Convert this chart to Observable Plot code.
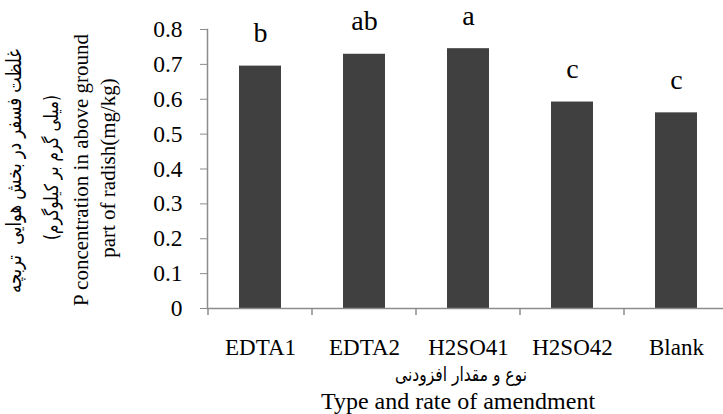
<!DOCTYPE html>
<html>
<head>
<meta charset="utf-8">
<script src="https://cdn.jsdelivr.net/npm/d3@7"></script>
<script src="https://cdn.jsdelivr.net/npm/@observablehq/plot@0.6"></script>
<style>
  html, body { margin: 0; padding: 0; background: #fff; }
  #chart svg { display: block; }
</style>
</head>
<body>
<div id="chart"></div>
<script>
// Amendment treatments and P concentration in the above-ground part of radish (mg/kg)
const treatments = ["EDTA1", "EDTA2", "H2SO41", "H2SO42", "Blank"];
const pConcentration = [0.695, 0.729, 0.745, 0.592, 0.561];
const groupLetters = ["b", "ab", "a", "c", "c"];
const yTicks = [0, 0.1, 0.2, 0.3, 0.4, 0.5, 0.6, 0.7, 0.8];

const rows = treatments.map((t, i) => ({treatment: t, value: pConcentration[i], letter: groupLetters[i]}));

const serif = "'Liberation Serif', 'Times New Roman', serif";
const arabic = "'DejaVu Sans', sans-serif";
const axisGray = "#8c8c8c";

const plot = Plot.plot({
  width: 723,
  height: 414,
  marginLeft: 207,
  marginRight: -6,
  marginTop: 29,
  marginBottom: 106,
  style: {fontFamily: serif, color: "#000", background: "#fff"},
  x: {type: "band", domain: treatments, padding: 0, label: null},
  y: {domain: [0, 0.8], label: null},
  marks: [
    Plot.barY(rows, {x: "treatment", y: "value", fill: "#404040", insetLeft: 31, insetRight: 31}),
    Plot.text(rows, {x: "treatment", y: "value", text: "letter", fontSize: 28, fontFamily: serif, dy: -33}),
    Plot.axisY({ticks: yTicks, tickFormat: d3.format(""), tickSize: 7, tickPadding: 18, fontSize: 23.5, fontFamily: serif, stroke: axisGray, label: null}),
    Plot.axisX({tickSize: 0, tickPadding: 30, fontSize: 23, fontFamily: serif, label: null}),
    Plot.frame({anchor: "left", stroke: axisGray, strokeWidth: 1.5}),
    Plot.ruleY([0], {stroke: axisGray, strokeWidth: 1.5})
  ]
});

document.getElementById("chart").append(plot);

// Category boundary ticks under the x axis and the axis titles
const svg = d3.select(plot);
const xs = plot.scale("x");
const ys = plot.scale("y");
const y0 = ys.apply(0);
const edges = treatments.map(t => xs.apply(t)).concat([xs.apply(treatments[treatments.length - 1]) + xs.step]);
svg.append("g")
  .selectAll("line")
  .data(edges)
  .join("line")
  .attr("x1", d => d).attr("x2", d => d)
  .attr("y1", y0).attr("y2", y0 + 7)
  .attr("stroke", axisGray).attr("stroke-width", 1.5);

const titles = svg.append("g").attr("fill", "#000");

// Persian titles: set at 18px, then scaled in a group so the run has the given length
function persian(label, x, y, length, rotate) {
  const g = titles.append("g");
  const t = g.append("text")
    .attr("text-anchor", "middle")
    .attr("font-family", arabic)
    .attr("font-size", 18)
    .text(label);
  const w = t.node().getComputedTextLength() || length;
  const s = length / w;
  g.attr("transform", `translate(${x},${y})${rotate ? " rotate(-90)" : ""} scale(${s},${s * 1.25})`);
  return g;
}

// y-axis titles (rotated)
persian("غلظت فسفر در بخش هوایی  تربچه", 21, 171, 244, true);
persian("(میلی گرم بر کیلوگرم)", 58, 167.5, 145, true);
titles.append("text")
  .attr("transform", "translate(87.5,170) rotate(-90)")
  .attr("text-anchor", "middle")
  .attr("font-family", serif)
  .attr("font-size", 21)
  .text("P concentration in above ground");
titles.append("text")
  .attr("transform", "translate(114.5,168) rotate(-90)")
  .attr("text-anchor", "middle")
  .attr("font-family", serif)
  .attr("font-size", 21)
  .text("part of radish(mg/kg)");

// x-axis titles
persian("نوع و مقدار افزودنی", 461, 381, 132, false);
titles.append("text")
  .attr("x", 458).attr("y", 409)
  .attr("text-anchor", "middle")
  .attr("font-family", serif)
  .attr("font-size", 24)
  .text("Type and rate of amendment");
</script>
</body>
</html>
